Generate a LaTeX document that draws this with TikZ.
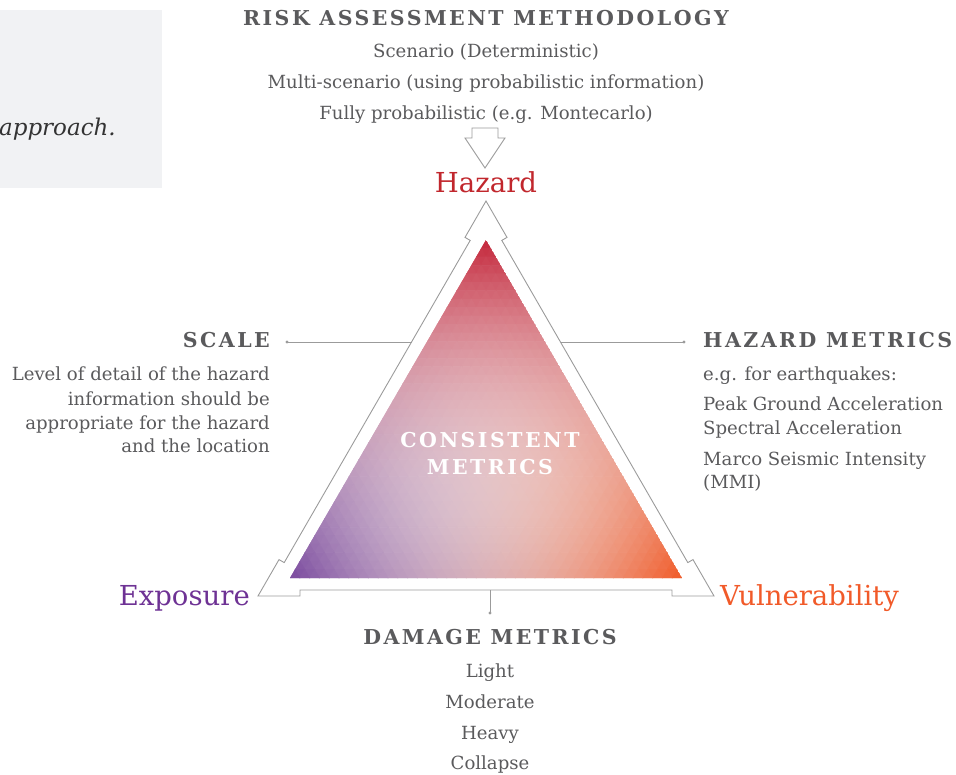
\documentclass[tikz,border=0pt]{standalone}
\usepackage{fontspec}
\setmainfont{DejaVu Serif}
\newfontfamily\headfont[LetterSpace=12]{DejaVu Serif}
\definecolor{txt}{HTML}{5A5A5C}
\definecolor{hz}{HTML}{C1272D}
\definecolor{ex}{HTML}{6E3294}
\definecolor{vu}{HTML}{F15A29}
\definecolor{ln}{HTML}{9B9B9B}
\definecolor{boxc}{HTML}{F1F2F4}
\newcommand\tricol[2]{%
  \pgfmathsetmacro\tlb{#1}%
  \pgfmathsetmacro\tlc{#2}%
  \pgfmathsetmacro\tla{1-\tlb-\tlc}%
  \pgfmathsetmacro\twa{pow(\tla,2.4)}%
  \pgfmathsetmacro\twb{pow(\tlb,2.5)}%
  \pgfmathsetmacro\twc{pow(\tlc,2.5)}%
  \pgfmathsetmacro\twl{1-\twa-\twb-\twc}%
  \pgfmathsetmacro\tcR{\twa*0.769+\twb*0.478+\twc*0.941+\twl*0.935}%
  \pgfmathsetmacro\tcG{\twa*0.149+\twb*0.290+\twc*0.353+\twl*0.886}%
  \pgfmathsetmacro\tcB{\twa*0.227+\twb*0.620+\twc*0.157+\twl*0.890}%
  \definecolor{cur}{rgb}{\tcR,\tcG,\tcB}%
}
\tikzset{
  headtxt/.style={font=\headfont\bfseries\fontsize{20.5}{23}\selectfont, text=txt, inner sep=0pt},
  bodytxt/.style={font=\fontsize{18.1}{21}\selectfont, text=txt, inner sep=0pt},
  bigtxt/.style={font=\fontsize{27.5}{30}\selectfont, inner sep=0pt},
  outline/.style={draw=ln, line width=0.9pt, line join=miter},
  conn/.style={draw=ln, line width=0.9pt},
  dot/.style={fill=ln},
  cell/.style={fill=cur, draw=cur, line width=0.7pt}
}
\begin{document}
\begin{tikzpicture}[x=1pt,y=-1pt]
\useasboundingbox (0,0) rectangle (956,775);
\clip (0,0) rectangle (956,775);
% intro box
\fill[boxc] (0,10) rectangle (162,188);
\node[anchor=base east, font=\itshape\fontsize{23}{26}\selectfont, text=black!80, inner sep=0pt] (intro) at (116,136) {approach.};
% gradient triangle
\coordinate (GA) at (486,240);
\coordinate (GB) at (290,578);
\coordinate (GC) at (682,578);
\begin{scope}
  \clip (GA) -- (GB) -- (GC) -- cycle;
  \foreach \i in {0,...,39}{
    \pgfmathtruncatemacro\jmax{39-\i}
    \foreach \j in {0,...,\jmax}{
      \tricol{(\i+1/3)/40}{(\j+1/3)/40}
      \path[cell] ({486+(\j-\i)*4.9},{240+(\i+\j)*8.45}) -- ({486+(\j-\i-1)*4.9},{240+(\i+\j+1)*8.45}) -- ({486+(\j+1-\i)*4.9},{240+(\i+\j+1)*8.45}) -- cycle;
      \ifnum\numexpr\i+\j\relax<39
        \tricol{(\i+2/3)/40}{(\j+2/3)/40}
        \path[cell] ({486+(\j-\i-1)*4.9},{240+(\i+\j+1)*8.45}) -- ({486+(\j+1-\i)*4.9},{240+(\i+\j+1)*8.45}) -- ({486+(\j-\i)*4.9},{240+(\i+\j+2)*8.45}) -- cycle;
      \fi
    }
  }
\end{scope}
% outline of the three arrows
\draw[outline] (486,201) -- (465,237.4) -- (470.2,240.4) -- (284.2,562.6) -- (279,559.6) -- (258,596)
  -- (300,596) -- (300,590) -- (672,590) -- (672,596) -- (714,596)
  -- (693,559.6) -- (687.8,562.6) -- (501.8,240.4) -- (507,237.4) -- cycle;
% hollow down arrow
\draw[outline, fill=white] (472,128) -- (498,128) -- (498,138) -- (505,138) -- (485,168) -- (465,138) -- (472,138) -- cycle;
% top texts
\node[headtxt, anchor=base] (title) at (486,26) {RISK ASSESSMENT METHODOLOGY};
\node[bodytxt, anchor=base] (m1) at (486,58) {Scenario (Deterministic)};
\node[bodytxt, anchor=base] (m2) at (486,89) {Multi-scenario (using probabilistic information)};
\node[bodytxt, anchor=base] (m3) at (486,120) {Fully probabilistic (e.g. Montecarlo)};
\node[bigtxt, text=hz, anchor=base] (hazard) at (486,193) {Hazard};
% scale
\node[headtxt, anchor=base east] (scale) at (270,348) {SCALE};
\node[bodytxt, anchor=base east] (s1) at (270,381) {Level of detail of the hazard};
\node[bodytxt, anchor=base east] (s2) at (270,405.5) {information should be};
\node[bodytxt, anchor=base east] (s3) at (270,429.5) {appropriate for the hazard};
\node[bodytxt, anchor=base east] (s4) at (270,453) {and the location};
\coordinate (scaleDot) at (287,342);
\coordinate (scaleEnd) at (411.5,342);
\draw[conn] (scaleDot) -- (scaleEnd);
\fill[dot] (scaleDot) circle (1.6);
% hazard metrics
\node[headtxt, anchor=base west] (hm) at (703,348) {HAZARD METRICS};
\node[bodytxt, anchor=base west] (h1) at (703,381) {e.g. for earthquakes:};
\node[bodytxt, anchor=base west] (h2) at (703,410) {Peak Ground Acceleration};
\node[bodytxt, anchor=base west] (h3) at (703,435) {Spectral Acceleration};
\node[bodytxt, anchor=base west] (h4) at (703,465) {Marco Seismic Intensity};
\node[bodytxt, anchor=base west] (h5) at (703,488) {(MMI)};
\coordinate (hmDot) at (684,342);
\coordinate (hmEnd) at (560.5,342);
\draw[conn] (hmEnd) -- (hmDot);
\fill[dot] (hmDot) circle (1.6);
% centre
\node[headtxt, text=white, anchor=base] (c1) at (490,447) {CONSISTENT};
\node[headtxt, text=white, anchor=base] (c2) at (490,475) {METRICS};
% corners
\node[bigtxt, text=ex, anchor=base east] (expo) at (250,605) {Exposure};
\node[bigtxt, text=vu, anchor=base west] (vuln) at (720,605) {Vulnerability};
% damage metrics
\coordinate (dmEnd) at (490,590);
\coordinate (dmDot) at (490,613);
\draw[conn] (dmEnd) -- (dmDot);
\fill[dot] (dmDot) circle (1.6);
\node[headtxt, anchor=base] (dm) at (490,644) {DAMAGE METRICS};
\node[bodytxt, anchor=base] (d1) at (490,677) {Light};
\node[bodytxt, anchor=base] (d2) at (490,708) {Moderate};
\node[bodytxt, anchor=base] (d3) at (490,739) {Heavy};
\node[bodytxt, anchor=base] (d4) at (490,769) {Collapse};
\end{tikzpicture}
\end{document}
